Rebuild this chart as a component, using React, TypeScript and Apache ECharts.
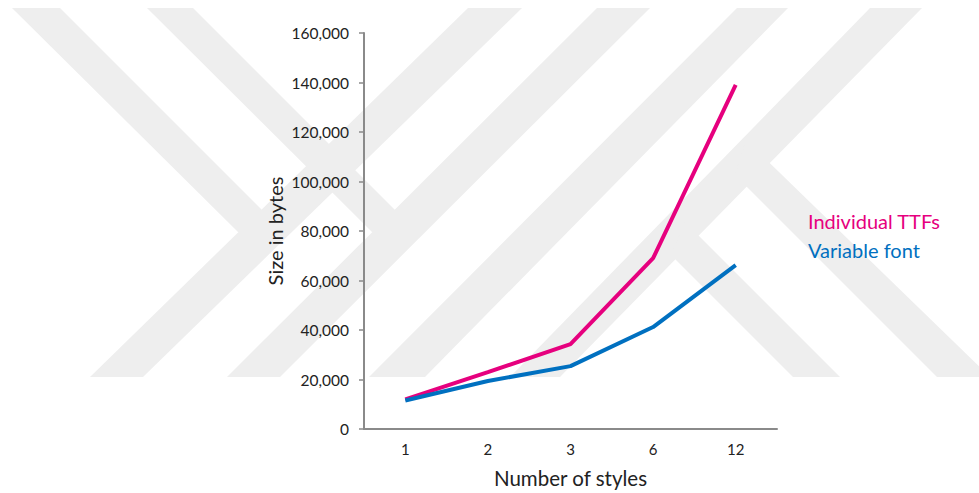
import React, { useEffect, useRef } from "react";
import * as echarts from "echarts";

// Number of font styles shipped
const styleCounts = ["1", "2", "3", "6", "12"];

// Total size in bytes
const individualTTFs = [12000, 23000, 34300, 69000, 139000];
const variableFont = [11500, 19400, 25400, 41200, 66200];

const seriesNames = ["Individual TTFs", "Variable font"];
const seriesColors = ["#e6007e", "#0070c0"];

const yMax = 160000;
const yStep = 20000;

// Light grey chevron bands drawn behind the plot
const BAND = "#eeeeee";
const backdropShapes: number[][][] = [
  [[90, 377], [143, 377], [522, 8], [468, 8]],
  [[227, 377], [280, 377], [650, 8], [597, 8]],
  [[369, 377], [425, 377], [788, 8], [737, 8]],
  [[510, 377], [560, 377], [922, 8], [870, 8]],
  [[12, 8], [60, 8], [284, 232], [238, 232]],
  [[147, 8], [193, 8], [417, 232], [372, 232]],
  [[746, 140], [990, 377], [937, 377], [735, 175]],
  [[685, 222], [840, 377], [793, 377], [671, 255]],
];

const FONT = "Lato, 'Noto Sans', sans-serif";

export default function App() {
  const ref = useRef<HTMLDivElement>(null);

  useEffect(() => {
    if (!ref.current) return;
    const chart = echarts.init(ref.current, null, { renderer: "svg" });
    const axisColor = "#8a8a8a";

    chart.setOption({
      animation: false,
      backgroundColor: "#ffffff",
      textStyle: { fontFamily: FONT },
      graphic: {
        elements: backdropShapes.map((pts) => ({
          type: "polygon",
          z: -100,
          silent: true,
          shape: { points: pts },
          style: { fill: BAND },
        })),
      },
      grid: { left: 364, top: 33, width: 413, height: 396 },
      legend: {
        orient: "vertical",
        left: 798,
        top: 206,
        icon: "none",
        itemWidth: 0,
        itemHeight: 20,
        itemGap: 9,
        selectedMode: false,
        textStyle: { fontSize: 20, fontFamily: FONT, lineHeight: 20 },
        data: seriesNames.map((n, i) => ({
          name: n,
          textStyle: { color: seriesColors[i] },
        })),
      },
      xAxis: {
        type: "category",
        data: styleCounts,
        boundaryGap: true,
        axisLine: { lineStyle: { color: axisColor, width: 2 } },
        axisTick: { show: false },
        axisLabel: { color: "#222", fontSize: 15, fontFamily: FONT, margin: 12 },
        name: "Number of styles",
        nameLocation: "middle",
        nameGap: 38,
        nameTextStyle: { color: "#222", fontSize: 20.5, fontFamily: FONT },
      },
      yAxis: {
        type: "value",
        min: 0,
        max: yMax,
        interval: yStep,
        axisLine: { show: true, lineStyle: { color: axisColor, width: 2 } },
        axisTick: { show: true, length: 5, lineStyle: { color: axisColor, width: 1.5 } },
        splitLine: { show: false },
        axisLabel: {
          color: "#222",
          fontSize: 15.5,
          fontFamily: FONT,
          margin: 15,
          formatter: (v: number) => v.toLocaleString("en-US"),
        },
        name: "Size in bytes",
        nameLocation: "middle",
        nameRotate: 90,
        nameGap: 79,
        nameTextStyle: { color: "#222", fontSize: 20, fontFamily: FONT },
      },
      series: [
        {
          name: seriesNames[0],
          type: "line",
          data: individualTTFs,
          symbol: "none",
          lineStyle: { color: seriesColors[0], width: 4 },
          itemStyle: { color: seriesColors[0] },
        },
        {
          name: seriesNames[1],
          type: "line",
          data: variableFont,
          symbol: "none",
          lineStyle: { color: seriesColors[1], width: 4 },
          itemStyle: { color: seriesColors[1] },
        },
      ],
    });

    return () => chart.dispose();
  }, []);

  return <div ref={ref} style={{ width: 979, height: 493, position: "absolute", left: 0, top: 0 }} />;
}
